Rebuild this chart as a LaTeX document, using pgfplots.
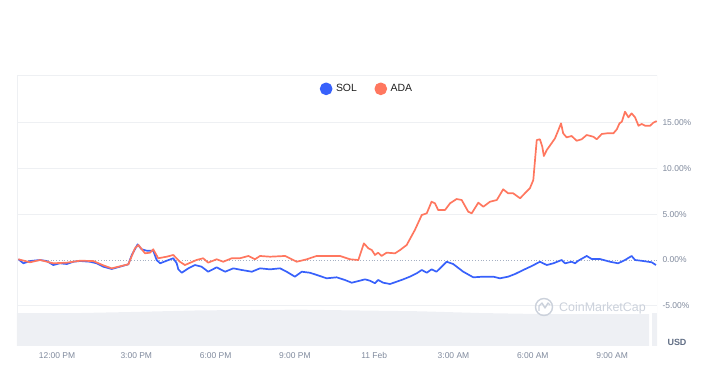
\documentclass[border=0pt]{standalone}
\usepackage{fontspec}
\setmainfont{Liberation Sans}
\usepackage{pgfplots}
\pgfplotsset{compat=1.18}
\definecolor{solblue}{HTML}{3861FB}
\definecolor{adared}{HTML}{FF775F}
\definecolor{gridc}{HTML}{EEF0F3}
\definecolor{ticklab}{HTML}{808A9D}
\definecolor{volc}{HTML}{EEF0F4}
\definecolor{wm}{HTML}{CBD1DB}
\definecolor{usdc}{HTML}{616E85}
\definecolor{zeroc}{HTML}{A6B0C3}
\begin{document}
\begin{tikzpicture}
\useasboundingbox (-17bp,-32bp) rectangle (699bp,346bp);
\begin{axis}[
  at={(0,0)}, anchor=south west,
  scale only axis, width=640bp, height=271bp,
  xmin=10.487, xmax=34.70, ymin=-9.39, ymax=20.20,
  axis line style={draw=none},
  xtick={12,15,18,21,24,27,30,33},
  xticklabels={12:00 PM,3:00 PM,6:00 PM,9:00 PM,11 Feb,3:00 AM,6:00 AM,9:00 AM},
  ytick={-5,5,10,15},
  yticklabels={-5.00\%,5.00\%,10.00\%,15.00\%},
  extra y ticks={0}, extra y tick labels={0.00\%},
  extra y tick style={grid style={dotted, color=zeroc, line width=0.8bp}},
  ymajorgrids, grid style={gridc, line width=0.8bp},
  major tick length=0,
  yticklabel pos=right,
  tick label style={font=\fontsize{8.5}{10}\selectfont, text=ticklab},
  yticklabel style={anchor=west, xshift=2bp},
  xticklabel style={anchor=north, yshift=-3bp},
  legend style={at={(0.548,0.949)}, anchor=center, draw=none, fill=none,
    legend columns=2, font=\fontsize{10.5}{12}\selectfont, text=black!88,
    /tikz/every even column/.append style={column sep=14bp},
    nodes={inner xsep=3.5bp}},
  legend image code/.code={\fill[#1] (2bp,0bp) circle (5.5bp);},
]
% volume background
\addplot[fill=volc, draw=none, forget plot] coordinates {
 (10.487,-9.39) (10.487,-5.79) (12.87,-5.79) (14.76,-5.68) (17.41,-5.50)
 (21.19,-5.42) (23.08,-5.50) (25.73,-5.60) (28.0,-5.79) (30.27,-5.90)
 (33.30,-5.90) (34.40,-5.90) (34.40,-9.39)} -- cycle;
\addplot[fill=volc, draw=none, forget plot] coordinates {
 (34.52,-9.39) (34.52,-5.79) (34.70,-5.79) (34.70,-9.39)} -- cycle;
% SOL
\addplot[solblue, line width=1.7bp, line join=round] coordinates {
(10.54,0.08) (10.73,-0.36) (10.98,-0.11) (11.36,0) (11.61,-0.11) (11.86,-0.55)
(12.11,-0.36) (12.37,-0.44) (12.62,-0.19) (12.87,-0.11) (13.25,-0.19) (13.50,-0.36)
(13.75,-0.73) (14.07,-0.98) (14.38,-0.73) (14.70,-0.47) (14.83,0.55) (15.05,1.71)
(15.20,1.17) (15.39,1.02) (15.64,1.02) (15.77,0) (15.90,-0.36) (16.15,-0.08)
(16.40,0.19) (16.53,-0.36) (16.59,-1.02) (16.72,-1.39) (16.97,-0.91) (17.22,-0.55)
(17.47,-0.73) (17.72,-1.28) (18.04,-0.80) (18.36,-1.28) (18.67,-0.91) (18.99,-1.09)
(19.37,-1.28) (19.68,-0.91) (20.06,-1.02) (20.44,-0.91) (20.69,-1.28) (21.00,-1.82)
(21.26,-1.28) (21.57,-1.39) (21.95,-1.75) (22.20,-2.00) (22.58,-1.89) (22.89,-2.18)
(23.15,-2.48) (23.46,-2.26) (23.65,-2.11) (23.84,-2.26) (24.03,-2.54) (24.15,-2.18)
(24.34,-2.48) (24.60,-2.62) (24.85,-2.37) (25.10,-2.11) (25.35,-1.82) (25.61,-1.45)
(25.80,-1.09) (25.99,-1.39) (26.17,-1.02) (26.36,-1.28) (26.74,-0.19) (26.99,-0.44)
(27.37,-1.28) (27.75,-1.89) (28.13,-1.82) (28.51,-1.82) (28.76,-2.00) (29.07,-1.82)
(29.33,-1.53) (29.64,-1.09) (29.96,-0.66) (30.27,-0.19) (30.53,-0.55) (30.78,-0.36)
(31.09,0) (31.22,-0.36) (31.47,-0.19) (31.60,-0.36) (31.72,-0.08) (32.04,0.44)
(32.23,0.11) (32.54,0.11) (32.92,-0.19) (33.23,-0.36) (33.49,0) (33.74,0.44)
(33.87,0) (34.18,-0.11) (34.50,-0.25) (34.66,-0.55)};
\addlegendentry{SOL}
% ADA
\addplot[adared, line width=1.7bp, line join=round] coordinates {
(10.54,0.08) (10.98,-0.25) (11.36,0) (11.86,-0.36) (12.37,-0.29) (12.87,-0.08)
(13.37,-0.11) (13.75,-0.58) (14.07,-0.91) (14.70,-0.47) (14.95,1.28) (15.08,1.64)
(15.33,0.73) (15.52,0.80) (15.64,1.17) (15.83,0.19) (16.15,0.36) (16.40,0.55)
(16.65,-0.19) (16.84,-0.55) (17.28,0) (17.53,0.19) (17.72,-0.29) (18.04,0.08)
(18.29,-0.19) (18.61,0.19) (18.92,0.19) (19.24,0.44) (19.49,0.08) (19.68,0.44)
(20.06,0.36) (20.63,0.44) (21.07,-0.19) (21.45,0.08) (21.82,0.44) (22.33,0.44)
(22.71,0.44) (23.08,0.08) (23.40,0) (23.61,1.82) (23.78,1.28) (23.91,1.09)
(24.03,0.55) (24.15,0.80) (24.28,0.44) (24.47,0.80) (24.79,0.73) (24.98,1.09)
(25.23,1.64) (25.54,3.28) (25.80,4.91) (25.99,5.10) (26.17,6.36) (26.30,6.19)
(26.42,5.46) (26.68,5.46) (26.87,6.19) (27.12,6.66) (27.31,6.55) (27.56,5.27)
(27.69,5.10) (27.94,6.26) (28.13,5.82) (28.38,6.36) (28.64,6.55) (28.88,7.72)
(29.07,7.28) (29.26,7.28) (29.52,6.74) (29.70,7.28) (29.89,7.83) (30.02,8.73)
(30.15,13.10) (30.27,13.18) (30.36,12.37) (30.42,11.35) (30.53,12.01) (30.71,12.74)
(30.84,13.28) (30.96,14.12) (31.07,14.92) (31.15,13.83) (31.28,13.39) (31.47,13.54)
(31.66,13.02) (31.85,13.18) (32.04,13.65) (32.29,13.46) (32.42,13.18) (32.61,13.76)
(32.80,13.83) (33.05,13.83) (33.18,14.27) (33.28,14.92) (33.37,15.10) (33.49,16.19)
(33.62,15.58) (33.74,16.01) (33.87,15.58) (34.00,14.66) (34.12,14.85) (34.25,14.66)
(34.44,14.66) (34.56,14.99) (34.69,15.17)};
\addlegendentry{ADA}
% frame
\draw[gridc, line width=0.8bp] (rel axis cs:0,0) -- (rel axis cs:0,1) -- (rel axis cs:1,1) -- (rel axis cs:1,0);
\end{axis}
% watermark
\draw[wm, line width=1.4bp] (527bp,39bp) circle (8.5bp);
\draw[wm, line width=1.4bp, line join=round] (522bp,35bp) -- (522bp,40bp) -- (525bp,43bp) -- (528bp,38bp) -- (531bp,43bp) -- (533bp,41bp);
\node[wm, font=\fontsize{12.5}{14}\selectfont] at (585.5bp,38bp) {CoinMarketCap};
\node[usdc, font=\bfseries\fontsize{9}{11}\selectfont] at (660bp,4bp) {USD};
\end{tikzpicture}
\end{document}
